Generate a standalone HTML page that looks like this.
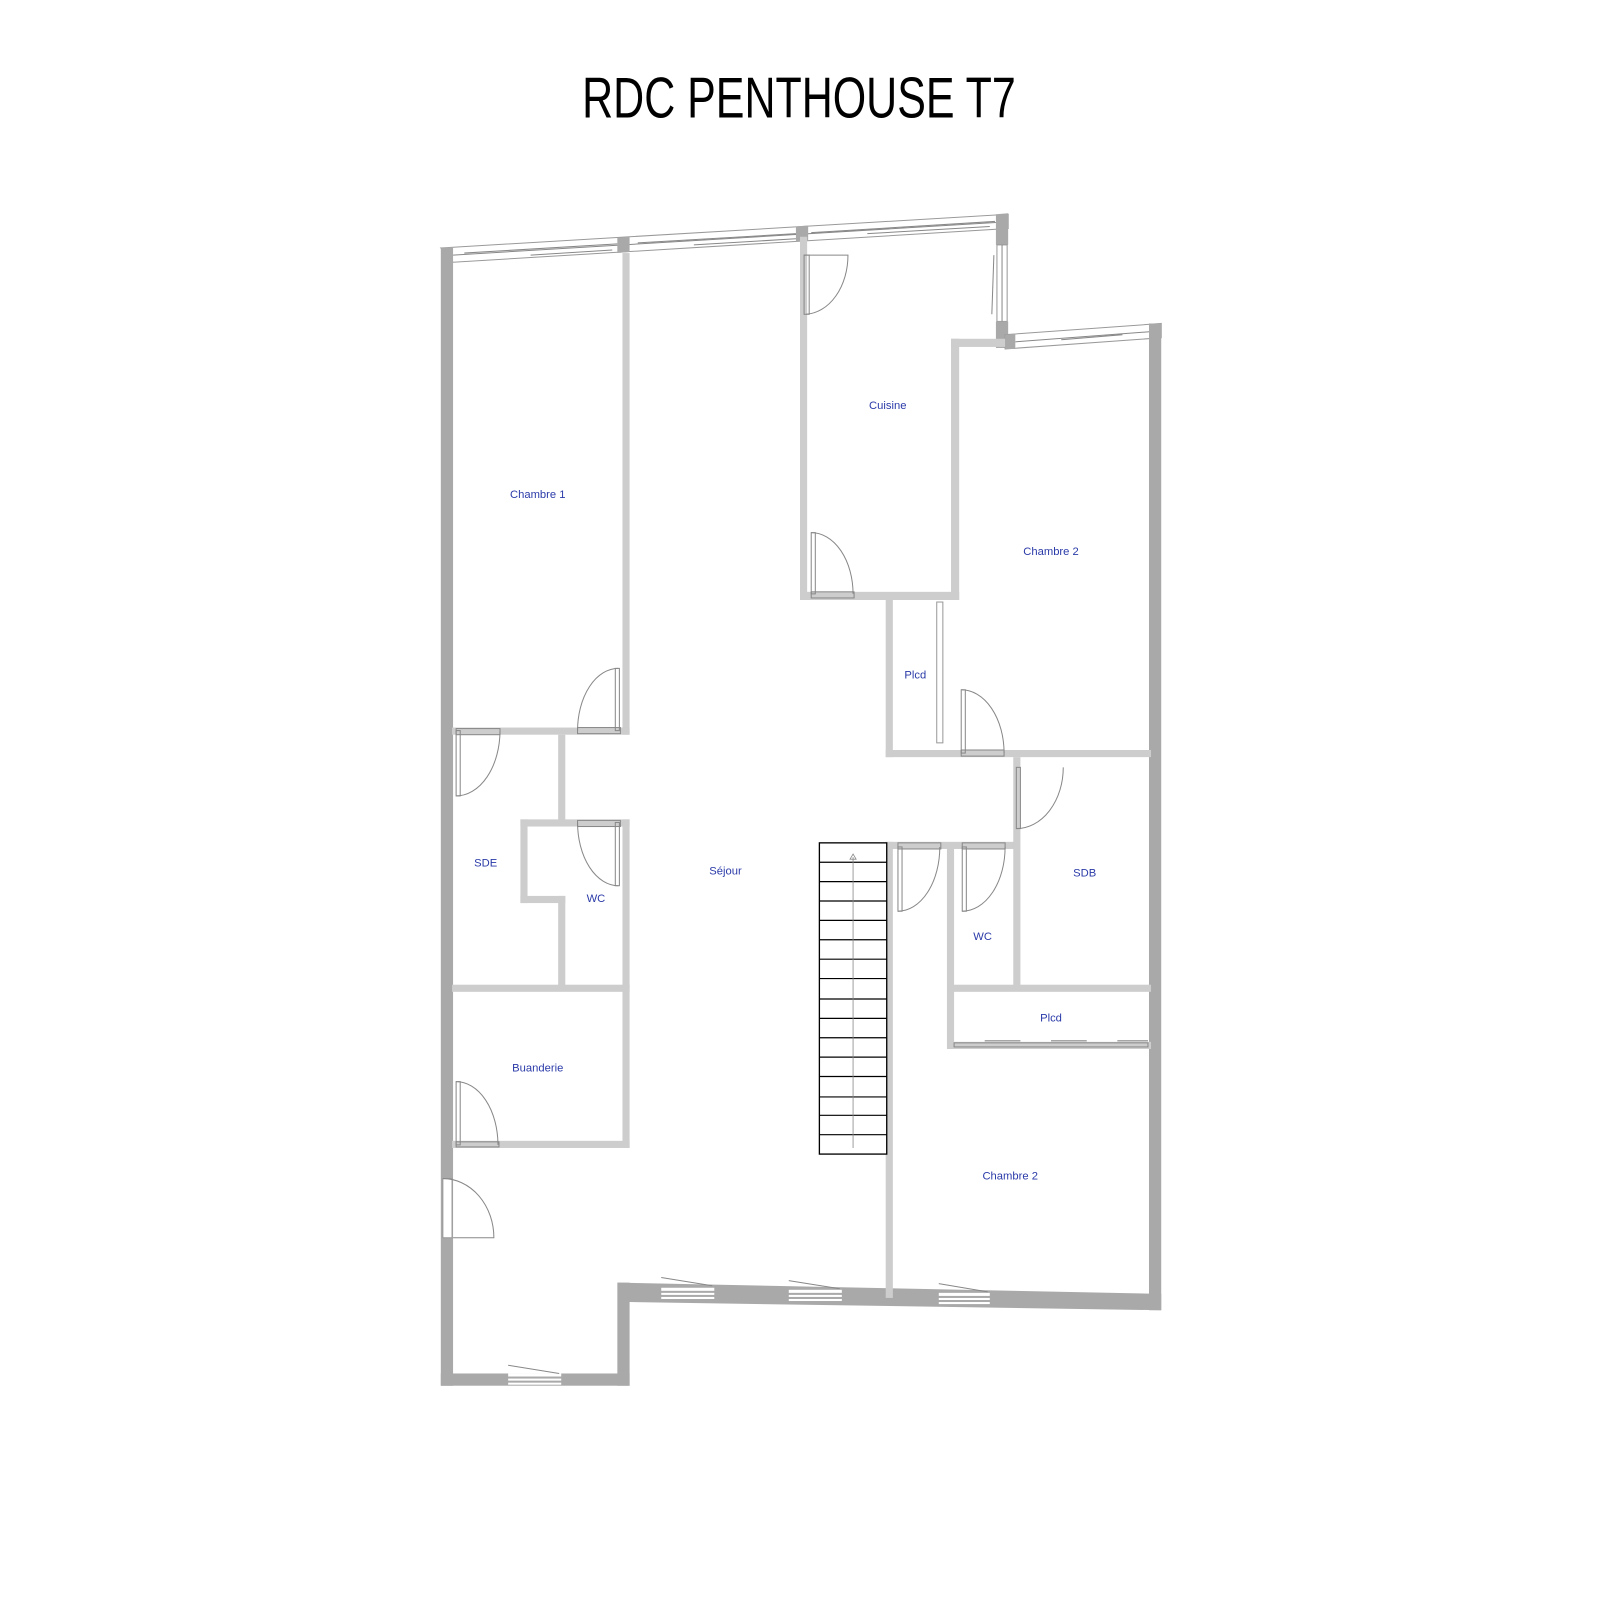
<!DOCTYPE html>
<html><head><meta charset="utf-8"><style>
html,body{margin:0;padding:0;background:#fff;}
svg{display:block}
.t{font-family:"Liberation Sans",sans-serif;font-size:11px;fill:#2a3aa8;text-anchor:middle}
.d{fill:none;stroke:#888;stroke-width:1}
.w{fill:#cdcdcd}
.o{fill:#a9a9a9}
.win{fill:#fff;stroke:#999;stroke-width:1}
</style></head><body>
<svg width="1600" height="1600" viewBox="0 0 1568 1568" xmlns="http://www.w3.org/2000/svg">
<rect width="1568" height="1568" fill="#fff"/>
<text x="783" y="115" font-family="Liberation Sans, sans-serif" font-size="56" textLength="425" lengthAdjust="spacingAndGlyphs" text-anchor="middle" fill="#000">RDC PENTHOUSE T7</text>

<!-- top window band -->
<polygon class="win" points="432,243 988,210 988,224 444,257"/>
<polyline class="d" points="444,250 976,218"/>
<polyline class="d" points="455,248 605,239"/><polyline class="d" points="520,250 600,245"/>
<polyline class="d" points="625,238 780,229"/><polyline class="d" points="680,240 780,234"/>
<polyline class="d" points="795,228 975,217"/><polyline class="d" points="850,229 970,222"/>
<polygon class="o" points="432,243 444,242 444,1358 432,1358"/>
<polygon class="o" points="605,233 617,232 617,247 605,248"/>
<polygon class="o" points="780,222 792,221 792,236 780,237"/>
<polygon class="o" points="976,210 988,209 988,240 976,240"/>
<rect class="win" x="977" y="240" width="10" height="75"/>
<line class="d" x1="982" y1="240" x2="982" y2="315"/>
<line class="d" x1="974" y1="250" x2="972" y2="308"/>
<rect class="o" x="976" y="315" width="12" height="26"/>
<!-- chambre2 top window -->
<polygon class="win" points="985,328 1138,317 1138,331 985,342"/>
<polyline class="d" points="995,335 1128,325"/><polyline class="d" points="1040,333 1100,328"/>
<polygon class="o" points="985,328 995,327 995,342 985,342"/>
<rect class="o" x="1126" y="317" width="12" height="967"/>
<!-- bottom -->
<rect class="o" x="432" y="1346" width="185" height="12"/>
<rect class="o" x="605" y="1257" width="12" height="101"/>
<polygon class="o" points="605,1257 1138,1268 1138,1284 617,1276"/>
<g fill="#fff">
<rect x="498" y="1346" width="52" height="3"/><rect x="498" y="1351" width="52" height="2"/><rect x="498" y="1355" width="52" height="2"/>
<rect x="648" y="1262" width="52" height="3"/><rect x="648" y="1267" width="52" height="2"/><rect x="648" y="1271" width="52" height="2"/>
<rect x="773" y="1264" width="52" height="3"/><rect x="773" y="1269" width="52" height="2"/><rect x="773" y="1273" width="52" height="2"/>
<rect x="920" y="1267" width="50" height="3"/><rect x="920" y="1272" width="50" height="2"/><rect x="920" y="1276" width="50" height="2"/>
</g>
<line class="d" x1="498" y1="1338" x2="548" y2="1346"/>
<line class="d" x1="648" y1="1252" x2="698" y2="1260"/>
<line class="d" x1="773" y1="1255" x2="823" y2="1263"/>
<line class="d" x1="920" y1="1258" x2="968" y2="1266"/>

<!-- inner walls -->
<g class="w">
<rect x="610" y="248" width="7" height="472"/>
<rect x="443" y="713" width="174" height="7"/>
<rect x="784" y="232" width="7" height="356"/>
<rect x="784" y="580" width="156" height="8"/>
<rect x="932" y="332" width="8" height="256"/>
<rect x="932" y="332" width="53" height="8"/>
<rect x="868" y="588" width="7" height="154"/>
<rect x="868" y="735" width="260" height="7"/>
<rect x="547" y="720" width="7" height="85"/>
<rect x="547" y="878" width="7" height="90"/>
<rect x="510" y="803" width="107" height="7"/>
<rect x="510" y="803" width="7" height="82"/>
<rect x="510" y="878" width="44" height="7"/>
<rect x="610" y="803" width="7" height="165"/>
<rect x="443" y="965" width="174" height="7"/>
<rect x="610" y="965" width="7" height="160"/>
<rect x="443" y="1118" width="174" height="7"/>
<rect x="868" y="825" width="7" height="447"/>
<rect x="868" y="825" width="127" height="7"/>
<rect x="928" y="832" width="7" height="196"/>
<rect x="993" y="742" width="7" height="226"/>
<rect x="930" y="965" width="198" height="7"/>
<rect x="930" y="1021" width="198" height="7"/>
</g>
<!-- sliding doors -->
<rect class="win" x="918" y="590" width="6" height="138"/>
<g class="d"><rect x="935" y="1022" width="190" height="4"/><line x1="965" y1="1020" x2="1000" y2="1020"/><line x1="1030" y1="1020" x2="1065" y2="1020"/><line x1="1095" y1="1020" x2="1125" y2="1020"/></g>

<!-- stairs -->
<rect x="803" y="826" width="66" height="305" fill="#fff" stroke="#000" stroke-width="1.3"/>
<g stroke="#000" stroke-width="1.2">
<line x1="803" y1="845" x2="869" y2="845"/><line x1="803" y1="864" x2="869" y2="864"/><line x1="803" y1="883" x2="869" y2="883"/><line x1="803" y1="902" x2="869" y2="902"/><line x1="803" y1="921" x2="869" y2="921"/><line x1="803" y1="940" x2="869" y2="940"/><line x1="803" y1="959" x2="869" y2="959"/><line x1="803" y1="979" x2="869" y2="979"/><line x1="803" y1="998" x2="869" y2="998"/><line x1="803" y1="1017" x2="869" y2="1017"/><line x1="803" y1="1036" x2="869" y2="1036"/><line x1="803" y1="1055" x2="869" y2="1055"/><line x1="803" y1="1075" x2="869" y2="1075"/><line x1="803" y1="1093" x2="869" y2="1093"/><line x1="803" y1="1112" x2="869" y2="1112"/>
</g>
<line x1="836" y1="840" x2="836" y2="1125" stroke="#888" stroke-width="0.8"/>
<polygon points="833,842 836,837 839,842" fill="none" stroke="#888" stroke-width="0.8"/>

<!-- doors -->
<g class="d">
<rect x="788" y="250" width="5" height="58"/><path d="M788 250 L831 250 A43 58 0 0 1 790 308"/>
<rect x="795" y="522" width="4" height="60"/><path d="M795 522 A41 60 0 0 1 836 582"/><rect x="795" y="580" width="42" height="6"/>
<rect x="603" y="655" width="4" height="61"/><path d="M606 655 A40 61 0 0 0 566 716"/><rect x="566" y="713" width="42" height="6"/>
<rect x="447" y="716" width="4" height="64"/><path d="M490 716 A43 64 0 0 1 447 780"/><rect x="447" y="714" width="43" height="6"/>
<rect x="603" y="806" width="4" height="62"/><path d="M566 806 A40 62 0 0 0 606 868"/><rect x="566" y="804" width="42" height="6"/>
<rect x="942" y="676" width="4" height="62"/><path d="M942 676 A42 62 0 0 1 984 738"/><rect x="942" y="735" width="42" height="6"/>
<rect x="996" y="752" width="4" height="60"/><path d="M1042 752 A46 60 0 0 1 996 812"/>
<rect x="880" y="830" width="4" height="63"/><path d="M921 830 A41 63 0 0 1 880 893"/><rect x="880" y="826" width="42" height="6"/>
<rect x="943" y="830" width="4" height="63"/><path d="M985 830 A42 63 0 0 1 943 893"/><rect x="943" y="826" width="42" height="6"/>
<rect x="447" y="1060" width="4" height="62"/><path d="M447 1060 A41 62 0 0 1 488 1122"/><rect x="447" y="1119" width="42" height="5"/>
<rect class="win" x="434" y="1155" width="9" height="58"/><path d="M434 1155 A50 58 0 0 1 484 1213 L444 1213"/>
</g>

<!-- labels -->
<text class="t" x="527" y="488">Chambre 1</text>
<text class="t" x="870" y="401">Cuisine</text>
<text class="t" x="1030" y="544">Chambre 2</text>
<text class="t" x="897" y="665">Plcd</text>
<text class="t" x="476" y="849">SDE</text>
<text class="t" x="584" y="884">WC</text>
<text class="t" x="711" y="857">Séjour</text>
<text class="t" x="1063" y="859">SDB</text>
<text class="t" x="963" y="921">WC</text>
<text class="t" x="1030" y="1001">Plcd</text>
<text class="t" x="527" y="1050">Buanderie</text>
<text class="t" x="990" y="1156">Chambre 2</text>
</svg>
</body></html>
